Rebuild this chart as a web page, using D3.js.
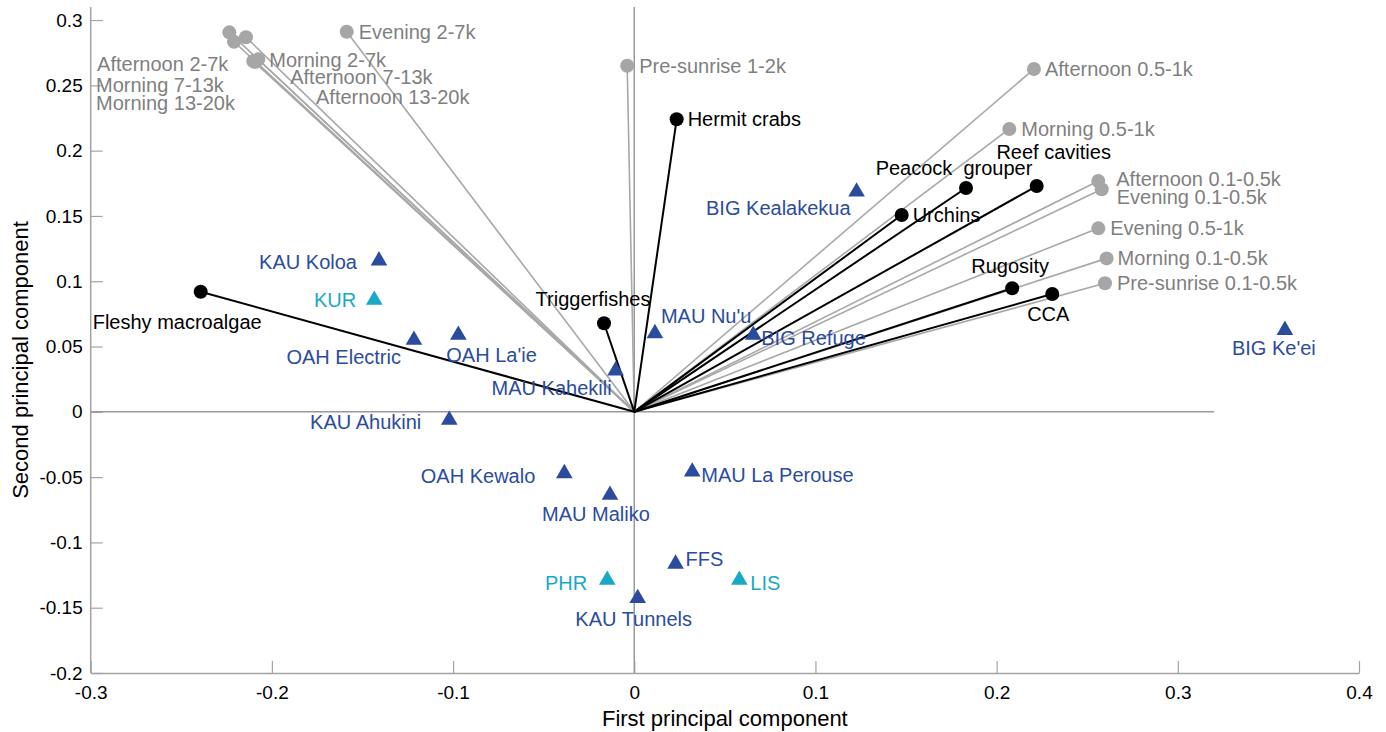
<!DOCTYPE html>
<html>
<head>
<meta charset="utf-8">
<script src="https://cdn.jsdelivr.net/npm/d3@7"></script>
<style>
  html, body { margin: 0; padding: 0; background: #fff; }
  svg { display: block; font-family: "Liberation Sans", Arial, sans-serif; }
  text { white-space: pre; }
</style>
</head>
<body>
<svg id="chart" width="1386" height="732"></svg>
<script>
// ---------- DATA ----------
// Sound-frequency / time-of-day loadings (grey vectors)
const soundNames = ["Evening 2-7k", "Afternoon 2-7k", "Morning 7-13k", "Morning 13-20k",
  "Morning 2-7k", "Afternoon 7-13k", "Afternoon 13-20k", "Pre-sunrise 1-2k",
  "Afternoon 0.5-1k", "Morning 0.5-1k", "Afternoon 0.1-0.5k", "Evening 0.1-0.5k",
  "Evening 0.5-1k", "Morning 0.1-0.5k", "Pre-sunrise 0.1-0.5k"];
const soundPC1 = [-0.1587, -0.2235, -0.2209, -0.2143, -0.2075, -0.2103, -0.2093, -0.0039,
  0.2206, 0.2070, 0.2561, 0.2580, 0.2561, 0.2607, 0.2598];
const soundPC2 = [0.2911, 0.2906, 0.2834, 0.2868, 0.2699, 0.2686, 0.2679, 0.2650,
  0.2625, 0.2166, 0.1767, 0.1704, 0.1405, 0.1175, 0.0984];

// Habitat / biological loadings (black vectors)
const habitatNames = ["Hermit crabs", "Fleshy macroalgae", "Triggerfishes", "Urchins",
  "Peacock  grouper", "Reef cavities", "Rugosity", "CCA"];
const habitatPC1 = [0.0234, -0.2393, -0.0167, 0.1476, 0.1831, 0.2221, 0.2086, 0.2307];
const habitatPC2 = [0.2240, 0.0920, 0.0678, 0.1507, 0.1714, 0.1729, 0.0946, 0.0902];

// Site scores (triangles)
const siteNames = ["KAU Koloa", "KUR", "OAH Electric", "OAH La'ie", "KAU Ahukini",
  "MAU Kahekili", "MAU Nu'u", "BIG Refuge", "BIG Kealakekua", "BIG Ke'ei",
  "OAH Kewalo", "MAU Maliko", "MAU La Perouse", "FFS", "PHR", "LIS", "KAU Tunnels"];
const sitePC1 = [-0.1409, -0.1435, -0.1216, -0.0971, -0.1021, -0.0103, 0.0114, 0.0657,
  0.1227, 0.3591, -0.0386, -0.0134, 0.0320, 0.0228, -0.0149, 0.0580, 0.0019];
const sitePC2 = [0.1157, 0.0856, 0.0550, 0.0588, -0.0063, 0.0315, 0.0601, 0.0588,
  0.1685, 0.0626, -0.0471, -0.0637, -0.0459, -0.1165, -0.1288, -0.1288, -0.1428];
const siteRegion = ["MHI", "NWHI", "MHI", "MHI", "MHI", "MHI", "MHI", "MHI",
  "MHI", "MHI", "MHI", "MHI", "MHI", "MHI", "NWHI", "NWHI", "MHI"];

const xTicks = [-0.3, -0.2, -0.1, 0, 0.1, 0.2, 0.3, 0.4];
const yTicks = [-0.2, -0.15, -0.1, -0.05, 0, 0.05, 0.1, 0.15, 0.2, 0.25, 0.3];
const xTitle = "First principal component";
const yTitle = "Second principal component";

// ---------- LABEL LAYOUT (pixel offsets from the mark, text-anchor) ----------
const labelLayout = {
  "Evening 2-7k": [12, 0, "start"],
  "Afternoon 2-7k": [-1, 32, "end"],
  "Morning 7-13k": [-138, 43, "start"],
  "Morning 13-20k": [-150, 66, "start"],
  "Morning 2-7k": [11, 1, "start"],
  "Afternoon 7-13k": [37, 16, "start"],
  "Afternoon 13-20k": [61, 35, "start"],
  "Pre-sunrise 1-2k": [12, 0, "start"],
  "Afternoon 0.5-1k": [11, 0, "start"],
  "Morning 0.5-1k": [12, 0, "start"],
  "Afternoon 0.1-0.5k": [18, -2, "start"],
  "Evening 0.1-0.5k": [15, 8, "start"],
  "Evening 0.5-1k": [12, 0, "start"],
  "Morning 0.1-0.5k": [11, 0, "start"],
  "Pre-sunrise 0.1-0.5k": [12, 0, "start"],
  "Hermit crabs": [11, 0, "start"],
  "Fleshy macroalgae": [-108, 30, "start"],
  "Triggerfishes": [-11, -24, "middle"],
  "Urchins": [11, 0, "start"],
  "Peacock  grouper": [-12, -20, "middle"],
  "Reef cavities": [17, -34, "middle"],
  "Rugosity": [-2, -22, "middle"],
  "CCA": [-4, 20, "middle"],
  "KAU Koloa": [-22, 1, "end"],
  "KUR": [-18, 0, "end"],
  "OAH Electric": [-13, 17, "end"],
  "OAH La'ie": [-12, 20, "start"],
  "KAU Ahukini": [-28, 2, "end"],
  "MAU Kahekili": [-4, 17, "end"],
  "MAU Nu'u": [6, -17, "start"],
  "BIG Refuge": [8, 3, "start"],
  "BIG Kealakekua": [-6, 16, "end"],
  "BIG Ke'ei": [-11, 18, "middle"],
  "OAH Kewalo": [-29, 3, "end"],
  "MAU Maliko": [-14, 19, "middle"],
  "MAU La Perouse": [9, 3, "start"],
  "FFS": [10, -5, "start"],
  "PHR": [-20, 3, "end"],
  "LIS": [11, 3, "start"],
  "KAU Tunnels": [-4, 21, "middle"]
};

// ---------- STYLE ----------
const C = {
  axis: "#a3a3a3", zero: "#9a9a9a",
  greyLine: "#a8a8a8", greyDot: "#a6a6a6", greyText: "#7f7f7f",
  black: "#000000", blue: "#2b4c9e", cyan: "#17a9c6"
};

// ---------- BUILD ----------
const svg = d3.select("#chart");
const x = d3.scaleLinear().domain([-0.3, 0.4]).range([90.7, 1359]);
const y = d3.scaleLinear().domain([-0.2, 0.31]).range([673, 7]);

const sound = soundNames.map((n, i) => ({ name: n, x: soundPC1[i], y: soundPC2[i] }));
const habitat = habitatNames.map((n, i) => ({ name: n, x: habitatPC1[i], y: habitatPC2[i] }));
const sites = siteNames.map((n, i) => ({ name: n, x: sitePC1[i], y: sitePC2[i], region: siteRegion[i] }));

// axes
const fmt = d => String(d);
const xAxis = svg.append("g").attr("transform", `translate(0,${y(-0.2)})`)
  .call(d3.axisBottom(x).tickValues(xTicks).tickSize(-12).tickSizeOuter(0).tickPadding(12.5).tickFormat(fmt));
const yAxis = svg.append("g").attr("transform", `translate(${x(-0.3)},0)`)
  .call(d3.axisLeft(y).tickValues(yTicks).tickSize(-12).tickSizeOuter(0).tickPadding(8).tickFormat(fmt));
[xAxis, yAxis].forEach(g => {
  g.select(".domain").attr("stroke", C.axis).attr("stroke-width", 1.5);
  g.selectAll(".tick line").attr("stroke", C.axis).attr("stroke-width", 1.2);
  g.selectAll(".tick text").attr("fill", "#000").style("font-size", "19px")
    .style("font-family", '"Liberation Sans", Arial, sans-serif');
});
// y axis domain should run to top of range
yAxis.select(".domain").attr("d", `M0,${y(-0.2)}V${y(0.31)}`);

// zero lines
svg.append("line").attr("x1", x(-0.3)).attr("x2", x(0.32)).attr("y1", y(0)).attr("y2", y(0))
  .attr("stroke", C.zero).attr("stroke-width", 1.5);
svg.append("line").attr("x1", x(0)).attr("x2", x(0)).attr("y1", y(-0.2)).attr("y2", y(0.31))
  .attr("stroke", C.zero).attr("stroke-width", 1.5);

// vectors
svg.append("g").selectAll("line").data(sound).join("line")
  .attr("x1", x(0)).attr("y1", y(0)).attr("x2", d => x(d.x)).attr("y2", d => y(d.y))
  .attr("stroke", C.greyLine).attr("stroke-width", 1.6);
svg.append("g").selectAll("line").data(habitat).join("line")
  .attr("x1", x(0)).attr("y1", y(0)).attr("x2", d => x(d.x)).attr("y2", d => y(d.y))
  .attr("stroke", C.black).attr("stroke-width", 2);

// dots
svg.append("g").selectAll("circle").data(sound).join("circle")
  .attr("cx", d => x(d.x)).attr("cy", d => y(d.y)).attr("r", 7).attr("fill", C.greyDot);
svg.append("g").selectAll("circle").data(habitat).join("circle")
  .attr("cx", d => x(d.x)).attr("cy", d => y(d.y)).attr("r", 7).attr("fill", C.black);

// triangles
const tri = d3.symbol().type(d3.symbolTriangle).size(120);
svg.append("g").selectAll("path").data(sites).join("path")
  .attr("d", tri).attr("transform", d => `translate(${x(d.x)},${y(d.y)})`)
  .attr("fill", d => d.region === "NWHI" ? C.cyan : C.blue);

// labels
function addLabels(data, color) {
  svg.append("g").selectAll("text").data(data).join("text")
    .attr("x", d => x(d.x) + labelLayout[d.name][0])
    .attr("y", d => y(d.y) + labelLayout[d.name][1])
    .attr("dy", "0.35em")
    .attr("text-anchor", d => labelLayout[d.name][2])
    .attr("fill", typeof color === "function" ? color : () => color)
    .style("font-size", "20px")
    .text(d => d.name);
}
addLabels(sound, C.greyText);
addLabels(habitat, C.black);
addLabels(sites, d => d.region === "NWHI" ? C.cyan : C.blue);

// axis titles
svg.append("text").attr("x", (x(-0.3) + x(0.4)) / 2).attr("y", 718).attr("dy", "0.35em")
  .attr("text-anchor", "middle").style("font-size", "22px").attr("fill", "#000").text(xTitle);
svg.append("text").attr("transform", `translate(20,360) rotate(-90)`)
  .attr("dy", "0.35em").attr("text-anchor", "middle").style("font-size", "22px")
  .attr("fill", "#000").text(yTitle);
</script>
</body>
</html>
